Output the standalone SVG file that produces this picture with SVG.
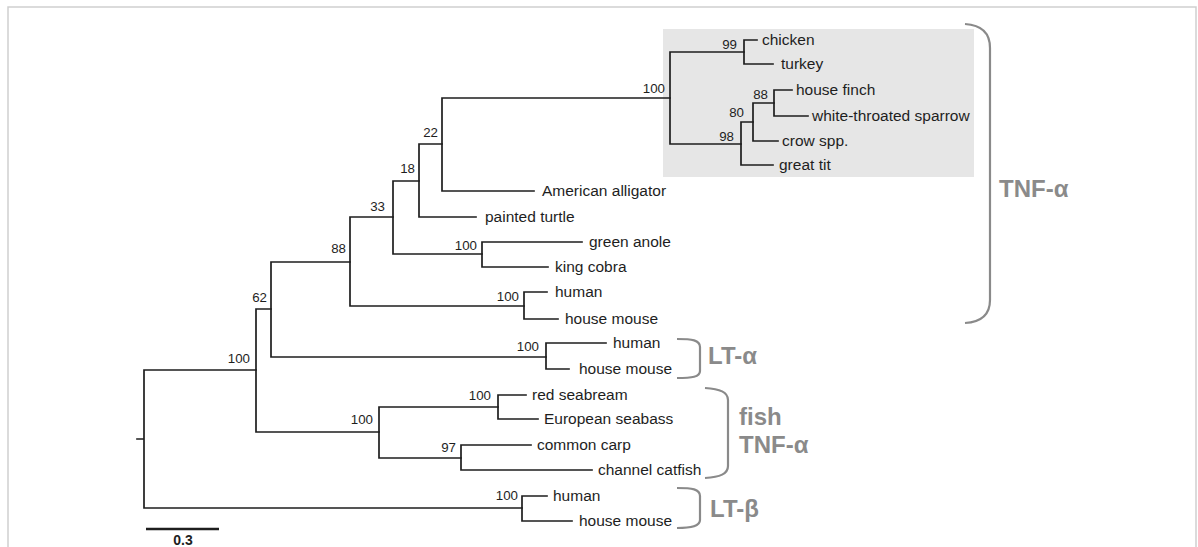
<svg xmlns="http://www.w3.org/2000/svg" width="1198" height="547" viewBox="0 0 1198 547">
<style>
.br{fill:none;stroke:#1e1e1e;stroke-width:1.7;stroke-linecap:square}
.lf{font-family:"Liberation Sans",Arial,sans-serif;font-size:15.5px;fill:#1e1e1e}
.bs{font-family:"Liberation Sans",Arial,sans-serif;font-size:13.3px;fill:#1e1e1e;text-anchor:end}
.gl{font-family:"Liberation Sans",Arial,sans-serif;font-size:24px;font-weight:bold;fill:#8a8a8a}
.bk{fill:none;stroke:#8a8a8a;stroke-width:2.2}
</style>
<rect width="1198" height="547" fill="#ffffff"/>
<path d="M8 547 V7 H1196 V547" fill="none" stroke="#cfcfcf" stroke-width="1.5"/>
<rect id="bird-box" x="663" y="29" width="311" height="148" fill="#e6e6e6"/>
<g id="connectors">
<path class="br" d="M137 439 H144 M144 370 V508 M144 370 H256 M144 508 H522"/>
<path class="br" d="M256 309 V432 M256 309 H271 M256 432 H379"/>
<path class="br" d="M271 262 V357 M271 262 H350 M271 357 H546"/>
<path class="br" d="M350 217 V306 M350 217 H393 M350 306 H524"/>
<path class="br" d="M393 181 V254 M393 181 H419 M393 254 H482"/>
<path class="br" d="M419 144 V217 M419 144 H442 M419 217 H476"/>
<path class="br" d="M442 98 V191 M442 98 H670 M442 191 H534"/>
<path class="br" d="M670 52 V144 M670 52 H744 M670 144 H741"/>
<path class="br" d="M744 40 V64 M744 40 H757 M744 64 H773"/>
<path class="br" d="M741 122 V165 M741 122 H753 M741 165 H773"/>
<path class="br" d="M753 103 V141 M753 103 H774 M753 141 H778"/>
<path class="br" d="M774 90 V116 M774 90 H792 M774 116 H808"/>
<path class="br" d="M482 242 V267 M482 242 H582 M482 267 H548"/>
<path class="br" d="M524 292 V319 M524 292 H547 M524 319 H558"/>
<path class="br" d="M546 343 V369 M546 343 H606 M546 369 H569"/>
<path class="br" d="M379 407 V458 M379 407 H498 M379 458 H461"/>
<path class="br" d="M498 395 V419 M498 395 H526 M498 419 H538"/>
<path class="br" d="M461 445 V470 M461 445 H531 M461 470 H592"/>
<path class="br" d="M522 496 V521 M522 496 H547 M522 521 H572"/>
</g>
<g id="support">
<text class="bs" x="250" y="363">100</text>
<text class="bs" x="267" y="302">62</text>
<text class="bs" x="346" y="253">88</text>
<text class="bs" x="385" y="211">33</text>
<text class="bs" x="415" y="173">18</text>
<text class="bs" x="438" y="137">22</text>
<text class="bs" x="665" y="93">100</text>
<text class="bs" x="737" y="49">99</text>
<text class="bs" x="768" y="99">88</text>
<text class="bs" x="744" y="117">80</text>
<text class="bs" x="734" y="141">98</text>
<text class="bs" x="477" y="250">100</text>
<text class="bs" x="519" y="301">100</text>
<text class="bs" x="539" y="351">100</text>
<text class="bs" x="373" y="424">100</text>
<text class="bs" x="491" y="400">100</text>
<text class="bs" x="456" y="452">97</text>
<text class="bs" x="518" y="500">100</text>
</g>
<g id="leaf-chicken"><text class="lf" x="762" y="45">chicken</text></g>
<g id="leaf-turkey"><text class="lf" x="781" y="69">turkey</text></g>
<g id="leaf-house-finch"><text class="lf" x="796" y="95">house finch</text></g>
<g id="leaf-sparrow"><text class="lf" x="812" y="121">white-throated sparrow</text></g>
<g id="leaf-crow"><text class="lf" x="782" y="146">crow spp.</text></g>
<g id="leaf-great-tit"><text class="lf" x="779" y="170">great tit</text></g>
<g id="leaf-alligator"><text class="lf" x="542" y="196">American alligator</text></g>
<g id="leaf-turtle"><text class="lf" x="485" y="222">painted turtle</text></g>
<g id="leaf-anole"><text class="lf" x="589" y="247">green anole</text></g>
<g id="leaf-cobra"><text class="lf" x="555" y="272">king cobra</text></g>
<g id="leaf-tnf-human"><text class="lf" x="555" y="297">human</text></g>
<g id="leaf-tnf-mouse"><text class="lf" x="565" y="324">house mouse</text></g>
<g id="leaf-lta-human"><text class="lf" x="613" y="348">human</text></g>
<g id="leaf-lta-mouse"><text class="lf" x="579" y="374">house mouse</text></g>
<g id="leaf-seabream"><text class="lf" x="532" y="400">red seabream</text></g>
<g id="leaf-seabass"><text class="lf" x="544" y="424">European seabass</text></g>
<g id="leaf-carp"><text class="lf" x="537" y="450">common carp</text></g>
<g id="leaf-catfish"><text class="lf" x="598" y="475">channel catfish</text></g>
<g id="leaf-ltb-human"><text class="lf" x="553" y="501">human</text></g>
<g id="leaf-ltb-mouse"><text class="lf" x="579" y="526">house mouse</text></g>
<g id="group-tnf">
<path class="bk" d="M965 24 C982 25 990 33 990 48 V300 C990 314 982 322 965 323"/>
<text class="gl" x="999" y="197">TNF-α</text>
</g>
<g id="group-lta">
<path class="bk" d="M677 339 C692 339 700 340 700 347 V371 C700 377 692 378 677 378"/>
<text class="gl" x="708" y="364">LT-α</text>
</g>
<g id="group-fish">
<path class="bk" d="M705 388 C720 389 728 392 728 400 V466 C728 474 720 477 705 478"/>
<text class="gl" x="739" y="425">fish</text>
<text class="gl" x="739" y="453">TNF-α</text>
</g>
<g id="group-ltb">
<path class="bk" d="M677 488 C692 488 700 489 700 496 V520 C700 526 692 528 677 528"/>
<text class="gl" x="710" y="517">LT-β</text>
</g>
<g id="scale">
<path d="M146 529 H219" stroke="#1e1e1e" stroke-width="2.6"/>
<text x="183" y="545" text-anchor="middle" font-family="'Liberation Sans',Arial,sans-serif" font-size="14px" font-weight="bold" fill="#1e1e1e">0.3</text>
</g>
</svg>
